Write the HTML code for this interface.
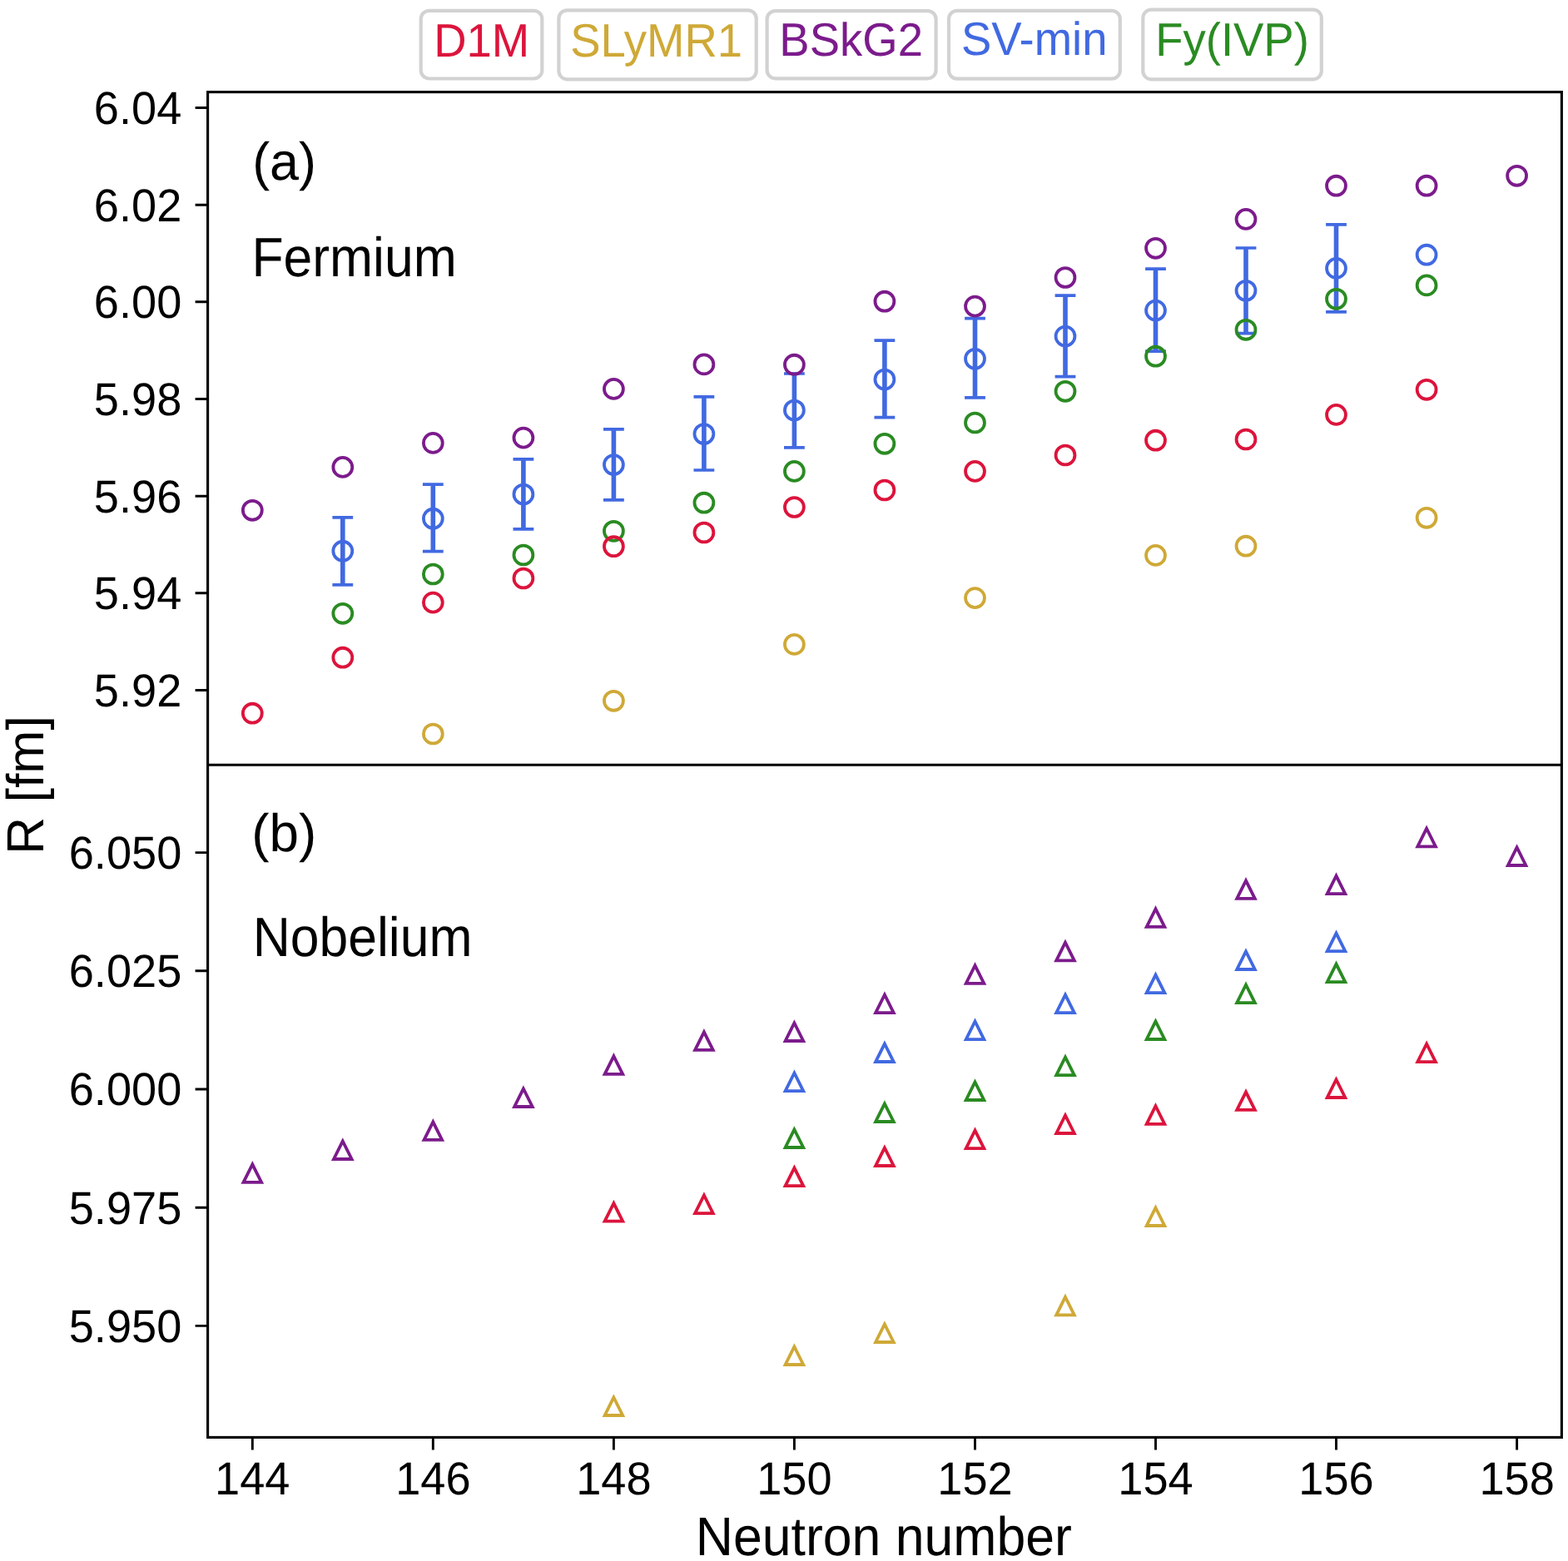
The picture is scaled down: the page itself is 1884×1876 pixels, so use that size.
<!DOCTYPE html><html><head><meta charset="utf-8"><title>Charge radii</title><style>html,body{margin:0;padding:0;background:#fff;overflow:hidden;width:1884px;height:1876px;}svg{display:block;text-rendering:geometricPrecision;font-family:"Liberation Sans",Arial,Helvetica,sans-serif;}</style></head><body><svg width="1884" height="1876" viewBox="0 0 1884 1876"><rect width="1884" height="1876" fill="#fff"/><rect x="505.7" y="12.9" width="145.6" height="81.6" rx="10" ry="10" fill="#fff" stroke="#d2d2d2" stroke-width="4.2"/><rect x="671.4" y="12.4" width="237.3" height="82.9" rx="10" ry="10" fill="#fff" stroke="#d2d2d2" stroke-width="4.2"/><rect x="921.6" y="13.1" width="203.0" height="81.2" rx="10" ry="10" fill="#fff" stroke="#d2d2d2" stroke-width="4.2"/><rect x="1140.0" y="12.8" width="205.8" height="81.8" rx="10" ry="10" fill="#fff" stroke="#d2d2d2" stroke-width="4.2"/><rect x="1373.3" y="11.7" width="214.5" height="83.6" rx="10" ry="10" fill="#fff" stroke="#d2d2d2" stroke-width="4.2"/><path fill="none" stroke="#4169E1" stroke-width="5.6" d="M411.8 621.9V702.8M520.3 582.2V662.7M628.9 551.9V635.8M737.4 515.9V600.8M845.9 476.8V565.0M954.4 449.0V537.9M1062.9 409.1V501.7M1171.5 382.6V477.8M1280.0 355.1V452.7M1388.5 323.1V422.2M1497.0 298.0V400.6M1605.5 269.9V374.9"/><path fill="none" stroke="#4169E1" stroke-width="3.7" d="M399.4 621.9H424.2M399.4 702.8H424.2M507.9 582.2H532.7M507.9 662.7H532.7M616.5 551.9H641.3M616.5 635.8H641.3M725.0 515.9H749.8M725.0 600.8H749.8M833.5 476.8H858.3M833.5 565.0H858.3M942.0 449.0H966.8M942.0 537.9H966.8M1050.5 409.1H1075.3M1050.5 501.7H1075.3M1159.1 382.6H1183.9M1159.1 477.8H1183.9M1267.6 355.1H1292.4M1267.6 452.7H1292.4M1376.1 323.1H1400.9M1376.1 422.2H1400.9M1484.6 298.0H1509.4M1484.6 400.6H1509.4M1593.1 269.9H1617.9M1593.1 374.9H1617.9"/><g fill="none" stroke="#4169E1" stroke-width="3.8"><circle cx="411.8" cy="662.2" r="11.45"/><circle cx="520.3" cy="623.2" r="11.45"/><circle cx="628.9" cy="594.0" r="11.45"/><circle cx="737.4" cy="558.5" r="11.45"/><circle cx="845.9" cy="521.5" r="11.45"/><circle cx="954.4" cy="493.0" r="11.45"/><circle cx="1062.9" cy="456.0" r="11.45"/><circle cx="1171.5" cy="431.3" r="11.45"/><circle cx="1280.0" cy="404.1" r="11.45"/><circle cx="1388.5" cy="373.1" r="11.45"/><circle cx="1497.0" cy="349.3" r="11.45"/><circle cx="1605.5" cy="322.4" r="11.45"/><circle cx="1714.1" cy="306.2" r="11.45"/></g><g fill="none" stroke="#2A8B22" stroke-width="3.8"><circle cx="411.8" cy="737.3" r="11.45"/><circle cx="520.3" cy="690.0" r="11.45"/><circle cx="628.9" cy="667.0" r="11.45"/><circle cx="737.4" cy="638.3" r="11.45"/><circle cx="845.9" cy="604.2" r="11.45"/><circle cx="954.4" cy="566.4" r="11.45"/><circle cx="1062.9" cy="533.3" r="11.45"/><circle cx="1171.5" cy="508.0" r="11.45"/><circle cx="1280.0" cy="470.3" r="11.45"/><circle cx="1388.5" cy="428.2" r="11.45"/><circle cx="1497.0" cy="396.3" r="11.45"/><circle cx="1605.5" cy="359.3" r="11.45"/><circle cx="1714.1" cy="342.9" r="11.45"/></g><g fill="none" stroke="#CFA937" stroke-width="3.8"><circle cx="520.3" cy="882.0" r="11.45"/><circle cx="737.4" cy="842.3" r="11.45"/><circle cx="954.4" cy="774.4" r="11.45"/><circle cx="1171.5" cy="718.6" r="11.45"/><circle cx="1388.5" cy="667.4" r="11.45"/><circle cx="1497.0" cy="656.2" r="11.45"/><circle cx="1714.1" cy="622.3" r="11.45"/></g><g fill="none" stroke="#7C1B8C" stroke-width="3.8"><circle cx="303.3" cy="613.3" r="11.45"/><circle cx="411.8" cy="561.4" r="11.45"/><circle cx="520.3" cy="532.4" r="11.45"/><circle cx="628.9" cy="526.1" r="11.45"/><circle cx="737.4" cy="467.4" r="11.45"/><circle cx="845.9" cy="437.9" r="11.45"/><circle cx="954.4" cy="438.2" r="11.45"/><circle cx="1062.9" cy="362.2" r="11.45"/><circle cx="1171.5" cy="368.1" r="11.45"/><circle cx="1280.0" cy="333.5" r="11.45"/><circle cx="1388.5" cy="298.3" r="11.45"/><circle cx="1497.0" cy="263.4" r="11.45"/><circle cx="1605.5" cy="223.2" r="11.45"/><circle cx="1714.1" cy="223.2" r="11.45"/><circle cx="1822.6" cy="211.3" r="11.45"/></g><g fill="none" stroke="#DC143C" stroke-width="3.8"><circle cx="303.3" cy="857.2" r="11.45"/><circle cx="411.8" cy="790.2" r="11.45"/><circle cx="520.3" cy="724.1" r="11.45"/><circle cx="628.9" cy="695.0" r="11.45"/><circle cx="737.4" cy="656.7" r="11.45"/><circle cx="845.9" cy="640.0" r="11.45"/><circle cx="954.4" cy="609.5" r="11.45"/><circle cx="1062.9" cy="589.0" r="11.45"/><circle cx="1171.5" cy="566.4" r="11.45"/><circle cx="1280.0" cy="547.0" r="11.45"/><circle cx="1388.5" cy="529.2" r="11.45"/><circle cx="1497.0" cy="528.0" r="11.45"/><circle cx="1605.5" cy="498.4" r="11.45"/><circle cx="1714.1" cy="468.3" r="11.45"/></g><path fill="none" stroke="#4169E1" stroke-width="3.8" stroke-linejoin="miter" stroke-miterlimit="10" d="M954.4 1289.5L943.6 1311.1H965.2ZM1062.9 1254.4L1052.1 1276.0H1073.7ZM1171.5 1227.5L1160.7 1249.1H1182.3ZM1280.0 1195.6L1269.2 1217.2H1290.8ZM1388.5 1171.6L1377.7 1193.2H1399.3ZM1497.0 1143.4L1486.2 1165.0H1507.8ZM1605.5 1121.6L1594.7 1143.2H1616.3Z"/><path fill="none" stroke="#2A8B22" stroke-width="3.8" stroke-linejoin="miter" stroke-miterlimit="10" d="M954.4 1357.4L943.6 1379.0H965.2ZM1062.9 1326.4L1052.1 1348.0H1073.7ZM1171.5 1300.4L1160.7 1322.0H1182.3ZM1280.0 1270.5L1269.2 1292.1H1290.8ZM1388.5 1227.4L1377.7 1249.0H1399.3ZM1497.0 1183.5L1486.2 1205.1H1507.8ZM1605.5 1158.6L1594.7 1180.2H1616.3Z"/><path fill="none" stroke="#CFA937" stroke-width="3.8" stroke-linejoin="miter" stroke-miterlimit="10" d="M737.4 1679.4L726.6 1701.0H748.2ZM954.4 1618.4L943.6 1640.0H965.2ZM1062.9 1591.4L1052.1 1613.0H1073.7ZM1280.0 1558.7L1269.2 1580.3H1290.8ZM1388.5 1451.4L1377.7 1473.0H1399.3Z"/><path fill="none" stroke="#7C1B8C" stroke-width="3.8" stroke-linejoin="miter" stroke-miterlimit="10" d="M303.3 1399.3L292.5 1420.9H314.1ZM411.8 1371.4L401.0 1393.0H422.6ZM520.3 1348.3L509.5 1369.9H531.1ZM628.9 1308.4L618.1 1330.0H639.7ZM737.4 1269.3L726.6 1290.9H748.2ZM845.9 1240.3L835.1 1261.9H856.7ZM954.4 1229.4L943.6 1251.0H965.2ZM1062.9 1195.5L1052.1 1217.1H1073.7ZM1171.5 1160.3L1160.7 1181.9H1182.3ZM1280.0 1132.7L1269.2 1154.3H1290.8ZM1388.5 1092.3L1377.7 1113.9H1399.3ZM1497.0 1058.3L1486.2 1079.9H1507.8ZM1605.5 1052.6L1594.7 1074.2H1616.3ZM1714.1 995.7L1703.3 1017.3H1724.9ZM1822.6 1018.4L1811.8 1040.0H1833.4Z"/><path fill="none" stroke="#DC143C" stroke-width="3.8" stroke-linejoin="miter" stroke-miterlimit="10" d="M737.4 1446.1L726.6 1467.7H748.2ZM845.9 1436.5L835.1 1458.1H856.7ZM954.4 1403.6L943.6 1425.2H965.2ZM1062.9 1379.4L1052.1 1401.0H1073.7ZM1171.5 1358.6L1160.7 1380.2H1182.3ZM1280.0 1340.4L1269.2 1362.0H1290.8ZM1388.5 1329.2L1377.7 1350.8H1399.3ZM1497.0 1312.3L1486.2 1333.9H1507.8ZM1605.5 1297.4L1594.7 1319.0H1616.3ZM1714.1 1254.5L1703.3 1276.1H1724.9Z"/><g fill="none" stroke="#000" stroke-width="3.1"><rect x="249.6" y="110.6" width="1626.8" height="1616.8"/><path d="M249.6 919.3H1876.4"/></g><path fill="none" stroke="#000" stroke-width="2.9" d="M249.6 129.5H234.6M249.6 246.2H234.6M249.6 362.8H234.6M249.6 479.5H234.6M249.6 596.2H234.6M249.6 712.8H234.6M249.6 829.5H234.6M249.6 1024.6H234.6M249.6 1166.8H234.6M249.6 1309.0H234.6M249.6 1451.2H234.6M249.6 1593.4H234.6M303.3 1727.4V1742.4M520.3 1727.4V1742.4M737.4 1727.4V1742.4M954.4 1727.4V1742.4M1171.5 1727.4V1742.4M1388.5 1727.4V1742.4M1605.5 1727.4V1742.4M1822.6 1727.4V1742.4"/><text transform="matrix(1.0030 0 0 1.0294 218.28 148.93)" text-anchor="end" font-size="54">6.04</text><text transform="matrix(0.9751 0 0 1.0415 302.48 332.39)" font-size="64">Fermium</text><text transform="matrix(0.9756 0 0 1.0415 303.68 1149.00)" font-size="64">Nobelium</text><text transform="matrix(0.9826 0 0 0.9958 303.16 216.29)" font-size="64">(a)</text><text transform="matrix(0.9970 0 0 0.9997 302.25 1023.44)" font-size="64">(b)</text><text transform="matrix(0.9779 0 0 1.0227 835.70 1869.10)" font-size="64">Neutron number</text><text transform="translate(52.47 943.55) rotate(-90) scale(0.9774 0.9790)" text-anchor="middle" font-size="64">R [fm]</text><text transform="matrix(1.0089 0 0 1.0440 521.19 68.06)" fill="#DC143C" font-size="54">D1M</text><text transform="matrix(1.0089 0 0 1.0440 685.23 68.30)" fill="#CFA937" font-size="54">SLyMR1</text><text transform="matrix(1.0089 0 0 1.0440 936.37 66.61)" fill="#7C1B8C" font-size="54">BSkG2</text><text transform="matrix(1.0089 0 0 1.0440 1154.88 66.47)" fill="#4169E1" font-size="54">SV-min</text><text transform="matrix(1.0089 0 0 1.0440 1388.23 67.00)" fill="#2A8B22" font-size="54">Fy(IVP)</text><text transform="matrix(1.0030 0 0 1.0294 218.28 265.63)" text-anchor="end" font-size="54">6.02</text><text transform="matrix(1.0030 0 0 1.0294 218.28 382.23)" text-anchor="end" font-size="54">6.00</text><text transform="matrix(1.0030 0 0 1.0294 218.28 498.93)" text-anchor="end" font-size="54">5.98</text><text transform="matrix(1.0030 0 0 1.0294 218.28 615.63)" text-anchor="end" font-size="54">5.96</text><text transform="matrix(1.0030 0 0 1.0294 218.28 732.23)" text-anchor="end" font-size="54">5.94</text><text transform="matrix(1.0030 0 0 1.0294 218.28 848.93)" text-anchor="end" font-size="54">5.92</text><text transform="matrix(1.0030 0 0 1.0294 218.28 1044.03)" text-anchor="end" font-size="54">6.050</text><text transform="matrix(1.0030 0 0 1.0294 218.28 1186.23)" text-anchor="end" font-size="54">6.025</text><text transform="matrix(1.0030 0 0 1.0294 218.28 1328.43)" text-anchor="end" font-size="54">6.000</text><text transform="matrix(1.0030 0 0 1.0294 218.28 1470.63)" text-anchor="end" font-size="54">5.975</text><text transform="matrix(1.0030 0 0 1.0294 218.28 1612.83)" text-anchor="end" font-size="54">5.950</text><text transform="matrix(1.0030 0 0 1.0294 303.30 1796.00)" text-anchor="middle" font-size="54">144</text><text transform="matrix(1.0030 0 0 1.0294 520.34 1796.00)" text-anchor="middle" font-size="54">146</text><text transform="matrix(1.0030 0 0 1.0294 737.38 1796.00)" text-anchor="middle" font-size="54">148</text><text transform="matrix(1.0030 0 0 1.0294 954.42 1796.00)" text-anchor="middle" font-size="54">150</text><text transform="matrix(1.0030 0 0 1.0294 1171.46 1796.00)" text-anchor="middle" font-size="54">152</text><text transform="matrix(1.0030 0 0 1.0294 1388.50 1796.00)" text-anchor="middle" font-size="54">154</text><text transform="matrix(1.0030 0 0 1.0294 1605.54 1796.00)" text-anchor="middle" font-size="54">156</text><text transform="matrix(1.0030 0 0 1.0294 1822.58 1796.00)" text-anchor="middle" font-size="54">158</text></svg></body></html>
